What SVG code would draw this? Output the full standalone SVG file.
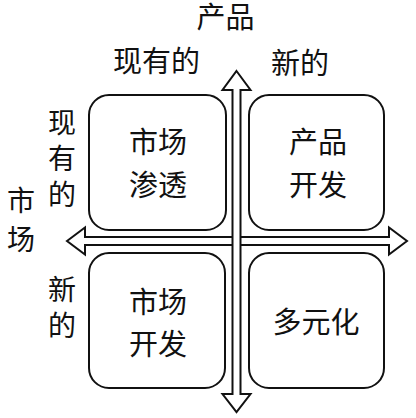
<svg xmlns="http://www.w3.org/2000/svg" width="416" height="418" viewBox="0 0 416 418">
<style>
text{font-family:"Noto Sans CJK SC","Noto Sans",sans-serif;font-size:29px;fill:#111;text-anchor:middle}
.v{font-size:28px}
.box{fill:#fff;stroke:#111;stroke-width:2}
.arrow{fill:#fff;stroke:#111;stroke-width:2;stroke-linejoin:miter}
</style>
<rect width="416" height="418" fill="#fff"/>
<g id="axis-labels">
<text x="225.5" y="28">产品</text>
<text x="156.5" y="72">现有的</text>
<text x="300" y="74">新的</text>
<text class="v" x="62" y="133">现</text>
<text class="v" x="62" y="169">有</text>
<text class="v" x="62" y="205">的</text>
<text class="v" x="21" y="211">市</text>
<text class="v" x="21" y="250">场</text>
<text class="v" x="62" y="300">新</text>
<text class="v" x="62" y="336">的</text>
</g>
<g id="connectors">
<polygon class="arrow" points="67,241 85,227.5 85,237 389,237 389,227.5 407,241 389,254.5 389,245 85,245 85,254.5"/>
<polygon class="arrow" points="236.5,71 250.5,90 240.5,90 240.5,394 250.5,394 236.5,412 222.5,394 232.5,394 232.5,90 222.5,90"/>
</g>
<g id="market-penetration">
<rect class="box" x="89" y="95" width="137" height="135" rx="20"/>
<text x="158" y="153">市场</text>
<text x="158" y="196">渗透</text>
</g>
<g id="product-development">
<rect class="box" x="249" y="95" width="135" height="135" rx="20"/>
<text x="318" y="153">产品</text>
<text x="318" y="196">开发</text>
</g>
<g id="market-development">
<rect class="box" x="89" y="253" width="136" height="135" rx="20"/>
<text x="158" y="313">市场</text>
<text x="158" y="355">开发</text>
</g>
<g id="diversification">
<rect class="box" x="249" y="253" width="135" height="135" rx="20"/>
<text x="316" y="333">多元化</text>
</g>
</svg>
